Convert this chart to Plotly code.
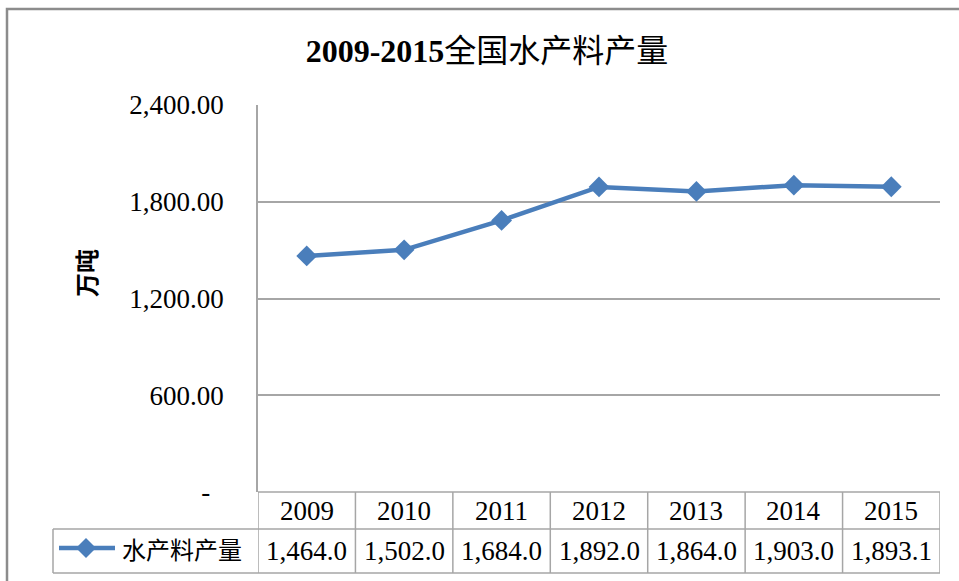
import plotly.graph_objects as go

years = ["2009", "2010", "2011", "2012", "2013", "2014", "2015"]
values = [1464.0, 1502.0, 1684.0, 1892.0, 1864.0, 1903.0, 1893.1]
series_name = "水产料产量"
title_years = "2009-2015"
title_rest = "全国水产料产量"
y_title = "万吨"
y_ticks = [0, 600, 1200, 1800, 2400]

SERIF = "Times New Roman, Liberation Serif, Noto Sans CJK SC, serif"
LINE_COLOR = "#4A7EBB"
GRID = "#A6A6A6"

W, H = 959, 581
ML, MR, MT, MB = 258, 19, 105, 89
PW, PH = W - ML - MR, H - MT - MB


def px(xpix):
    return (xpix - ML) / PW


def py(ypix):
    return (H - MB - ypix) / PH


tick_text = ["-\u00a0\u00a0" if v == 0 else f"{v:,.2f}" for v in y_ticks]

fig = go.Figure()
fig.add_trace(go.Scatter(
    x=years, y=values, mode="lines+markers",
    line=dict(color=LINE_COLOR, width=4.5),
    marker=dict(symbol="diamond", size=16, color=LINE_COLOR),
    showlegend=False, hoverinfo="x+y",
))

shapes = []
line_style = dict(color=GRID, width=1.5)
row1 = py(529)
row2 = py(573)
# horizontal table lines
shapes.append(dict(type="line", xref="x", yref="paper", x0=-0.5, x1=len(years) - 0.5, y0=0, y1=0, line=line_style))
shapes.append(dict(type="line", xref="paper", yref="paper", x0=px(53), x1=1, y0=row1, y1=row1, line=line_style))
shapes.append(dict(type="line", xref="paper", yref="paper", x0=px(53), x1=1, y0=row2, y1=row2, line=line_style))
# vertical table lines
shapes.append(dict(type="line", xref="paper", yref="paper", x0=px(53), x1=px(53), y0=row1, y1=row2, line=line_style))
for i in range(len(years) + 1):
    xv = i - 0.5
    shapes.append(dict(type="line", xref="x", yref="paper", x0=xv, x1=xv, y0=0, y1=row2, line=line_style))
# legend key: line + diamond
ly = py(548)
shapes.append(dict(type="line", xref="paper", yref="paper", x0=px(59), x1=px(115), y0=ly, y1=ly,
                   line=dict(color=LINE_COLOR, width=4.5)))
shapes.append(dict(type="path", xref="paper", yref="paper", xsizemode="pixel", ysizemode="pixel",
                   xanchor=px(86), yanchor=ly, path="M -10 0 L 0 10 L 10 0 L 0 -10 Z",
                   fillcolor=LINE_COLOR, line=dict(color=LINE_COLOR, width=0)))
# outer chart border
shapes.append(dict(type="rect", xref="paper", yref="paper", x0=px(7), x1=px(975), y0=py(9), y1=py(600),
                   line=dict(color="#8C8C8C", width=2.5), fillcolor="rgba(0,0,0,0)", layer="below"))

annotations = []
hdr_y = py(510.5)
val_y = py(551)
for i, (yr, v) in enumerate(zip(years, values)):
    annotations.append(dict(x=i, y=hdr_y, xref="x", yref="paper", text=yr, showarrow=False,
                            font=dict(family=SERIF, size=27, color="#000"), xanchor="center", yanchor="middle"))
    annotations.append(dict(x=i, y=val_y, xref="x", yref="paper", text=f"{v:,.1f}", showarrow=False,
                            font=dict(family=SERIF, size=27, color="#000"), xanchor="center", yanchor="middle"))
annotations.append(dict(x=px(120), y=val_y, xref="paper", yref="paper", text=series_name, showarrow=False,
                        font=dict(family=SERIF, size=24, color="#000"), xanchor="left", yanchor="middle"))
annotations.append(dict(x=px(88), y=py(273), xref="paper", yref="paper", text=f"<b>{y_title}</b>",
                        showarrow=False, textangle=-90,
                        font=dict(family=SERIF, size=24, color="#000"), xanchor="center", yanchor="middle"))

fig.update_layout(
    width=W, height=H,
    margin=dict(l=ML, r=MR, t=MT, b=MB, pad=0),
    paper_bgcolor="white", plot_bgcolor="white",
    title=dict(text=f"<b>{title_years}</b>{title_rest}", x=487 / W, xanchor="center", y=1 - 51 / H,
               yanchor="middle", font=dict(family=SERIF, size=32, color="#000")),
    xaxis=dict(type="category", range=[-0.5, len(years) - 0.5], showticklabels=False, showgrid=False,
               zeroline=False, showline=False, ticks=""),
    yaxis=dict(range=[0, 2400], tickvals=y_ticks, ticktext=tick_text, showgrid=True, gridcolor=GRID,
               gridwidth=1.5, zeroline=False, showline=True, linecolor=GRID, linewidth=1.5, ticks="",
               ticklabelstandoff=27, tickfont=dict(family=SERIF, size=27, color="#000")),
    shapes=shapes, annotations=annotations,
    showlegend=False,
)

fig.write_html("out.html", config={"displayModeBar": False},
               post_script="document.body.style.margin='0';")
